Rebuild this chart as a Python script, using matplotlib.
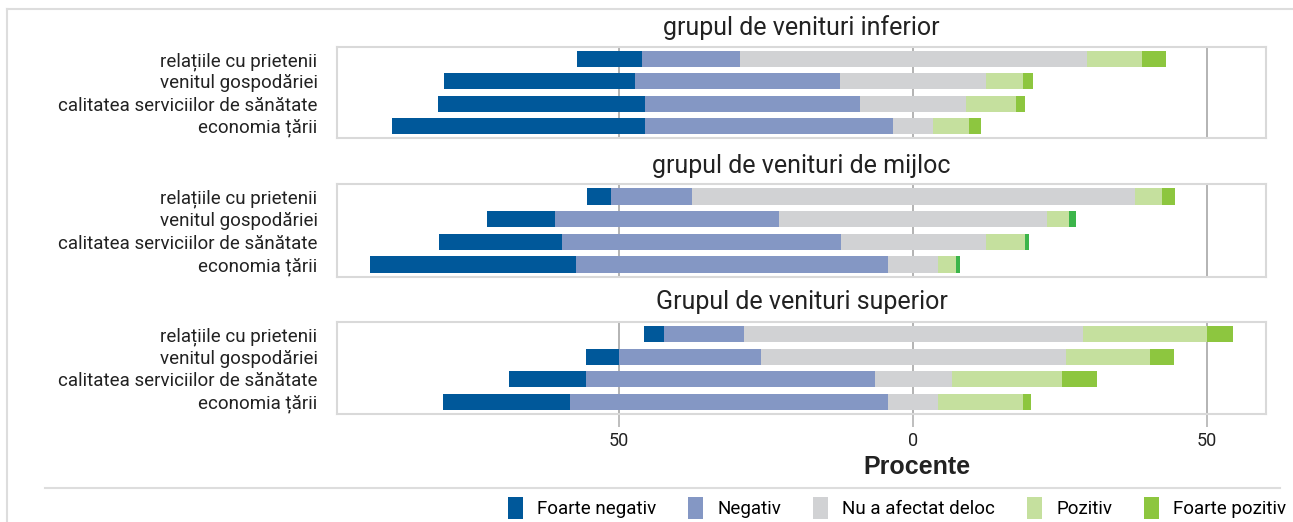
import matplotlib
matplotlib.use("Agg")
import matplotlib.pyplot as plt
from matplotlib.patches import Patch
from matplotlib.lines import Line2D
from matplotlib.transforms import blended_transform_factory
import numpy as np

categories = ["relațiile cu prietenii", "venitul gospodăriei",
              "calitatea serviciilor de sănătate", "economia țării"]
panel_titles = ["grupul de venituri inferior", "grupul de venituri de mijloc",
                "Grupul de venituri superior"]
series_names = ["Foarte negativ", "Negativ", "Nu a afectat deloc", "Pozitiv", "Foarte pozitiv"]

# values per panel: rows = categories, in series order
inferior_fn = [10.9, 32.5, 35.2, 43.0]
inferior_neg = [16.7, 34.9, 36.7, 42.2]
inferior_nu = [59.0, 24.8, 18.0, 6.8]
inferior_poz = [9.4, 6.3, 8.5, 6.1]
inferior_fp = [4.1, 1.7, 1.5, 2.0]

mijloc_fn = [4.1, 11.6, 20.9, 35.0]
mijloc_neg = [13.8, 38.1, 47.4, 53.1]
mijloc_nu = [75.3, 45.6, 24.7, 8.6]
mijloc_poz = [4.6, 3.7, 6.6, 2.9]
mijloc_fp = [2.2, 1.2, 0.7, 0.7]

superior_fn = [3.4, 5.6, 13.1, 21.6]
superior_neg = [13.6, 24.1, 49.1, 54.1]
superior_nu = [57.7, 51.9, 13.1, 8.6]
superior_poz = [21.1, 14.3, 18.7, 14.3]
superior_fp = [4.4, 4.1, 6.0, 1.5]

tick_values = [-50, 0, 50]
tick_labels = ["50", "0", "50"]

panels = [
    (inferior_fn, inferior_neg, inferior_nu, inferior_poz, inferior_fp),
    (mijloc_fn, mijloc_neg, mijloc_nu, mijloc_poz, mijloc_fp),
    (superior_fn, superior_neg, superior_nu, superior_poz, superior_fp),
]

colors = ["#00589A", "#8497C4", "#D1D2D4", "#C5E09E", "#8DC63F"]
alt_fp = "#3CB54A"
# per-panel per-row colour for "Foarte pozitiv" (middle panel uses a different green in rows 2-4)
fp_colors = [
    [colors[4]] * 4,
    [colors[4], alt_fp, alt_fp, alt_fp],
    [colors[4]] * 4,
]

label_font = ["Roboto", "DejaVu Sans"]
title_font = ["Roboto", "DejaVu Sans"]

W, H = 1293, 522
fig = plt.figure(figsize=(W / 100, H / 100), dpi=100)

panel_px = [(47, 138), (184, 277), (322, 414)]
title_y_px = [28, 166, 302]
left_px, right_px = 337, 1266
frame_col = "#D9D9D9"
grid_col = "#B3B3B3"
text_col = "#222222"

axes = []
for i, (top, bot) in enumerate(panel_px):
    ax = fig.add_axes([left_px / W, 1 - bot / H, (right_px - left_px) / W, (bot - top) / H])
    axes.append(ax)
    fn, neg, nu, poz, fp = [np.array(v, dtype=float) for v in panels[i]]
    y = np.arange(len(categories))
    start = -(fn + neg + nu / 2)
    segs = [fn, neg, nu, poz, fp]
    left = start.copy()
    for k, seg in enumerate(segs):
        c = fp_colors[i] if k == 4 else colors[k]
        ax.barh(y, seg, left=left, height=0.72, color=c, edgecolor="none", zorder=3)
        left = left + seg
    ax.set_xlim(-98, 60)
    ax.set_ylim(3.55, -0.55)
    for xv in tick_values:
        ax.axvline(xv, color=grid_col, lw=1.4, zorder=1)
    ax.set_yticks(y)
    ax.set_yticklabels(categories, family=label_font, fontsize=13.5, color=text_col)
    ax.tick_params(axis="y", length=0, pad=14)
    for s in ax.spines.values():
        s.set_color(frame_col)
        s.set_linewidth(1.5)
    fig.text((left_px + right_px) / 2 / W, 1 - title_y_px[i] / H, panel_titles[i],
             ha="center", va="center", family=title_font, fontsize=18, color=text_col)
    ax.set_xticks(tick_values)
    if i < 2:
        ax.tick_params(axis="x", length=0, labelbottom=False)
    else:
        ax.set_xticklabels(tick_labels, family=label_font, fontsize=13, color=text_col)
        ax.tick_params(axis="x", length=9, width=1.2, color=grid_col, pad=4)

tr = blended_transform_factory(axes[2].transData, fig.transFigure)
fig.text(0.7, 1 - 467 / H, "Procente", transform=tr,
         ha="center", va="center", fontsize=18, fontweight="bold",
         family=["Liberation Sans", "DejaVu Sans"], color=text_col)

# figure frame lines and separator
fig.add_artist(Line2D([7 / W, 1.0], [1 - 9 / H, 1 - 9 / H], color="#DDDDDD", lw=1.5))
fig.add_artist(Line2D([7 / W, 7 / W], [0, 1 - 9 / H], color="#DDDDDD", lw=1.5))
fig.add_artist(Line2D([45 / W, 1280 / W], [1 - 488 / H, 1 - 488 / H], color="#DDDDDD", lw=1.5))

handles = [Patch(facecolor=c, edgecolor="none") for c in colors]
fig.legend(handles, series_names, loc="center right", bbox_to_anchor=(1303 / W, 1 - 508 / H),
           ncol=5, frameon=False, handlelength=0.8, handleheight=1.5, handletextpad=0.75,
           columnspacing=1.7, prop={"family": label_font, "size": 13.5})

fig.savefig("out.png", dpi=100)
